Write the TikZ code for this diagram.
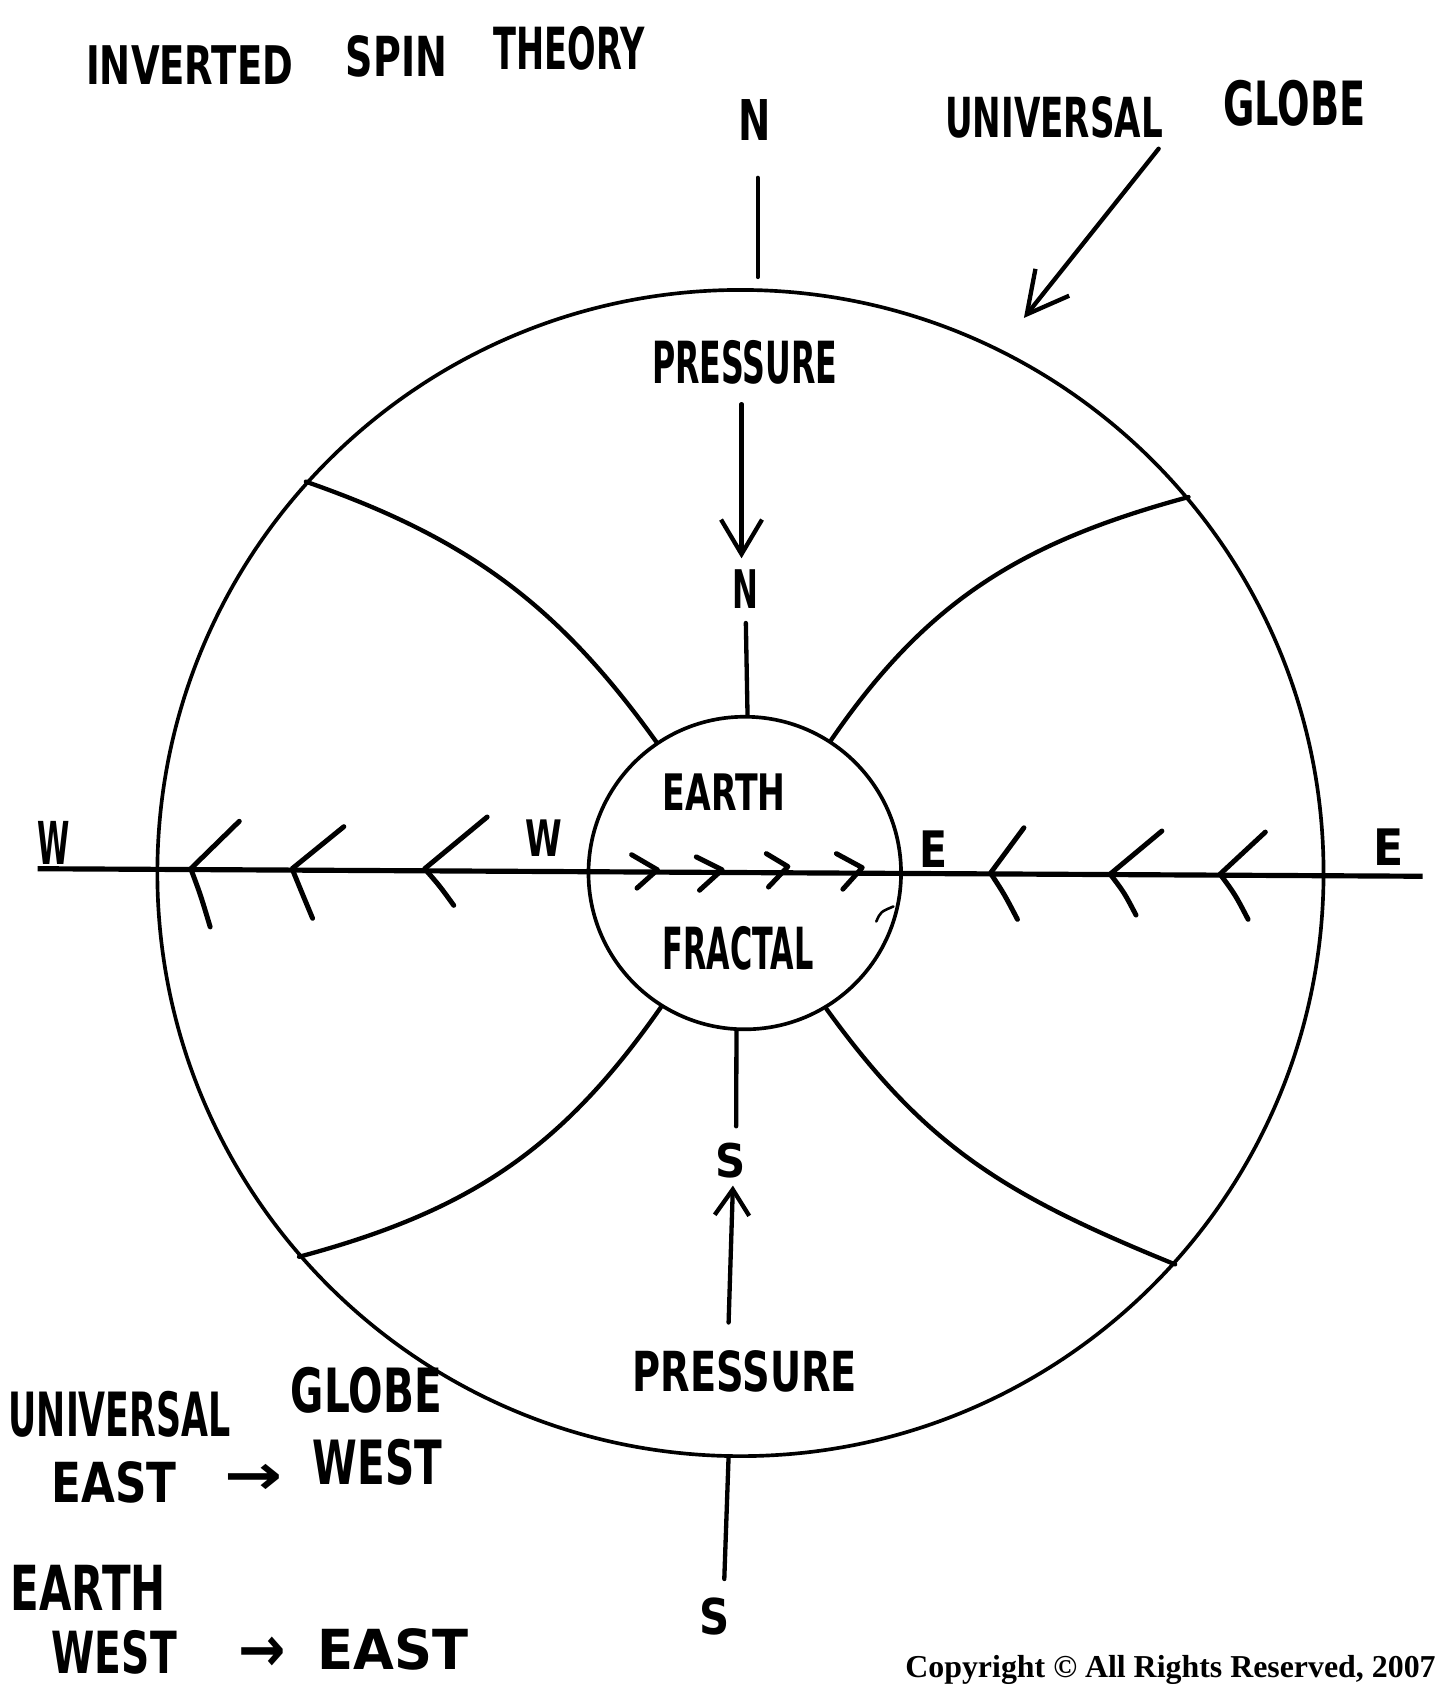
\documentclass[tikz,border=0pt]{standalone}
\usepackage{fontspec}
\usepackage{graphicx}
\usetikzlibrary{arrows.meta}
\newfontfamily\hwfont{DejaVu Sans}
\newfontfamily\copyfont{Liberation Serif}
\newcommand{\hw}[3]{\resizebox{#1pt}{#2pt}{\hwfont\bfseries #3}}
\tikzset{
  hand/.style={inner sep=0pt, outer sep=0pt},
  pen/.style={line width=2pt, line cap=round, line join=round},
  chev/.style={line width=2.3pt, line cap=round, line join=round},
  ring/.style={draw, circle, line width=1.7pt, inner sep=0pt},
}
\begin{document}
\begin{tikzpicture}[x=0.5pt, y=-0.5pt]
\fill[white] (0,0) rectangle (1333,1568);
\useasboundingbox (0,0) rectangle (1333,1568);

% circles
\node[ring, minimum size=541pt] (globe) at (687,810) {};
\node[ring, minimum size=145pt] (earth) at (691,810) {};

% curves between earth and globe
\draw[pen] (globe.138.75) .. controls (433,499) and (517,560) .. (earth.124.6);
\draw[pen] (globe.40.6) .. controls (948,503) and (860,557) .. (earth.57.7);
\draw[pen] (globe.221.2) .. controls (434,1124) and (520,1068) .. (earth.238.1);
\draw[pen] (earth.301.8) .. controls (860,1065) and (933,1109) .. (globe.318.2);

% horizontal axis
\coordinate (wend) at (35,806);
\coordinate (eend) at (1320,813);
\draw[line width=2.4pt] (wend) -- (eend);

% labels
\node[hand] (title1) at (176,60) {\hw{96}{18}{INVERTED}};
\node[hand] (title2) at (368,52) {\hw{47}{19}{SPIN}};
\node[hand] (title3) at (528,45) {\hw{70}{20}{THEORY}};
\node[hand] (ntop) at (700,111) {\hw{15}{19}{N}};
\node[hand] (ug1) at (978,109) {\hw{101}{19}{UNIVERSAL}};
\node[hand] (ug2) at (1201,96) {\hw{66}{21}{GLOBE}};
\node[hand] (ptop) at (691,336) {\hw{86}{20}{PRESSURE}};
\node[hand] (nin) at (692,547) {\hw{12}{18}{N}};
\node[hand] (earthlbl) at (672,735) {\hw{57}{17}{EARTH}};
\node[hand] (wout) at (50,782) {\hw{15}{20}{W}};
\node[hand] (win) at (505,778) {\hw{17}{17}{W}};
\node[hand] (ein) at (866,788) {\hw{13}{17}{E}};
\node[hand] (eout) at (1288,786) {\hw{14}{17}{E}};
\node[hand] (fractal) at (685,880) {\hw{70}{20}{FRACTAL}};
\node[hand] (sin) at (678,1077) {\hw{14}{16}{S}};
\node[hand] (pbot) at (691,1272) {\hw{104}{19}{PRESSURE}};
\node[hand] (sout) at (663,1500) {\hw{14}{17}{S}};

\node[hand] (ug3) at (111,1312) {\hw{103}{21}{UNIVERSAL}};
\node[hand] (ug4) at (340,1290) {\hw{70}{21}{GLOBE}};
\node[hand] (ew1) at (106,1375) {\hw{58}{19}{EAST}};
\node[hand] (ew2) at (235,1373) {\hw{27}{14}{→}};
\node[hand] (ew3) at (350,1357) {\hw{60}{21}{WEST}};
\node[hand] (eth) at (82,1473) {\hw{72}{21}{EARTH}};
\node[hand] (we1) at (106,1533) {\hw{58}{20}{WEST}};
\node[hand] (we2) at (243,1535) {\hw{22}{16}{→}};
\node[hand] (we3) at (365,1530) {\hw{70}{19}{EAST}};

\node[hand, anchor=base west] (copy) at (840,1556)
  {\resizebox{246pt}{!}{\copyfont\bfseries Copyright © All Rights Reserved, 2007}};

% N / S lines
\coordinate (ntop1) at (703,165);
\coordinate (ntop2) at (703,257);
\draw[pen] (ntop1) -- (ntop2);
\coordinate (nin1) at (692,578);
\draw[pen] (nin1) -- (earth.89.6);
\coordinate (sin1) at (683,1045);
\draw[pen] (earth.267.2) -- (sin1);
\coordinate (sout0) at (676,1351);
\coordinate (sout1) at (672,1465);
\draw[pen] (sout0) -- (sout1);

% pressure arrows
\coordinate (pa1) at (688,375);
\coordinate (pa2) at (688,518);
\draw[pen, -{Straight Barb[length=16pt,width=19pt]}] (pa1) -- (pa2);
\coordinate (pb1) at (676,1227);
\coordinate (pb2) at (680,1100);
\draw[pen, -{Straight Barb[length=12pt,width=16pt]}] (pb1) -- (pb2);

% universal globe pointer
\coordinate (ug1a) at (1075,138);
\coordinate (ug1b) at (950,295);
\draw[pen, -{Straight Barb[length=19pt,width=20pt]}] (ug1a) -- (ug1b);

% chevrons, outer left (pointing west)
\draw[chev] (222,762) -- (177,806) .. controls (186,830) .. (195,860);
\draw[chev] (319,767) -- (271,806) .. controls (280,828) .. (290,852);
\draw[chev] (452,758) -- (394,806) .. controls (408,822) .. (421,840);
% chevrons, outer right (pointing west)
\draw[chev] (950,768) -- (919,810) .. controls (932,830) .. (944,853);
\draw[chev] (1078,771) -- (1030,811) .. controls (1043,828) .. (1054,849);
\draw[chev] (1174,772) -- (1132,811) .. controls (1146,830) .. (1158,853);
% chevrons, inner (pointing east)
\draw[chev] (586,793) -- (610,807) -- (591,824);
\draw[chev] (646,795) -- (670,807) -- (649,826);
\draw[chev] (711,792) -- (731,804) -- (713,823);
\draw[chev] (776,792) -- (800,805) -- (782,825);

% small hook mark
\draw[line width=1.2pt, line cap=round] (813,855) .. controls (817,846) .. (829,841);
\end{tikzpicture}
\end{document}
